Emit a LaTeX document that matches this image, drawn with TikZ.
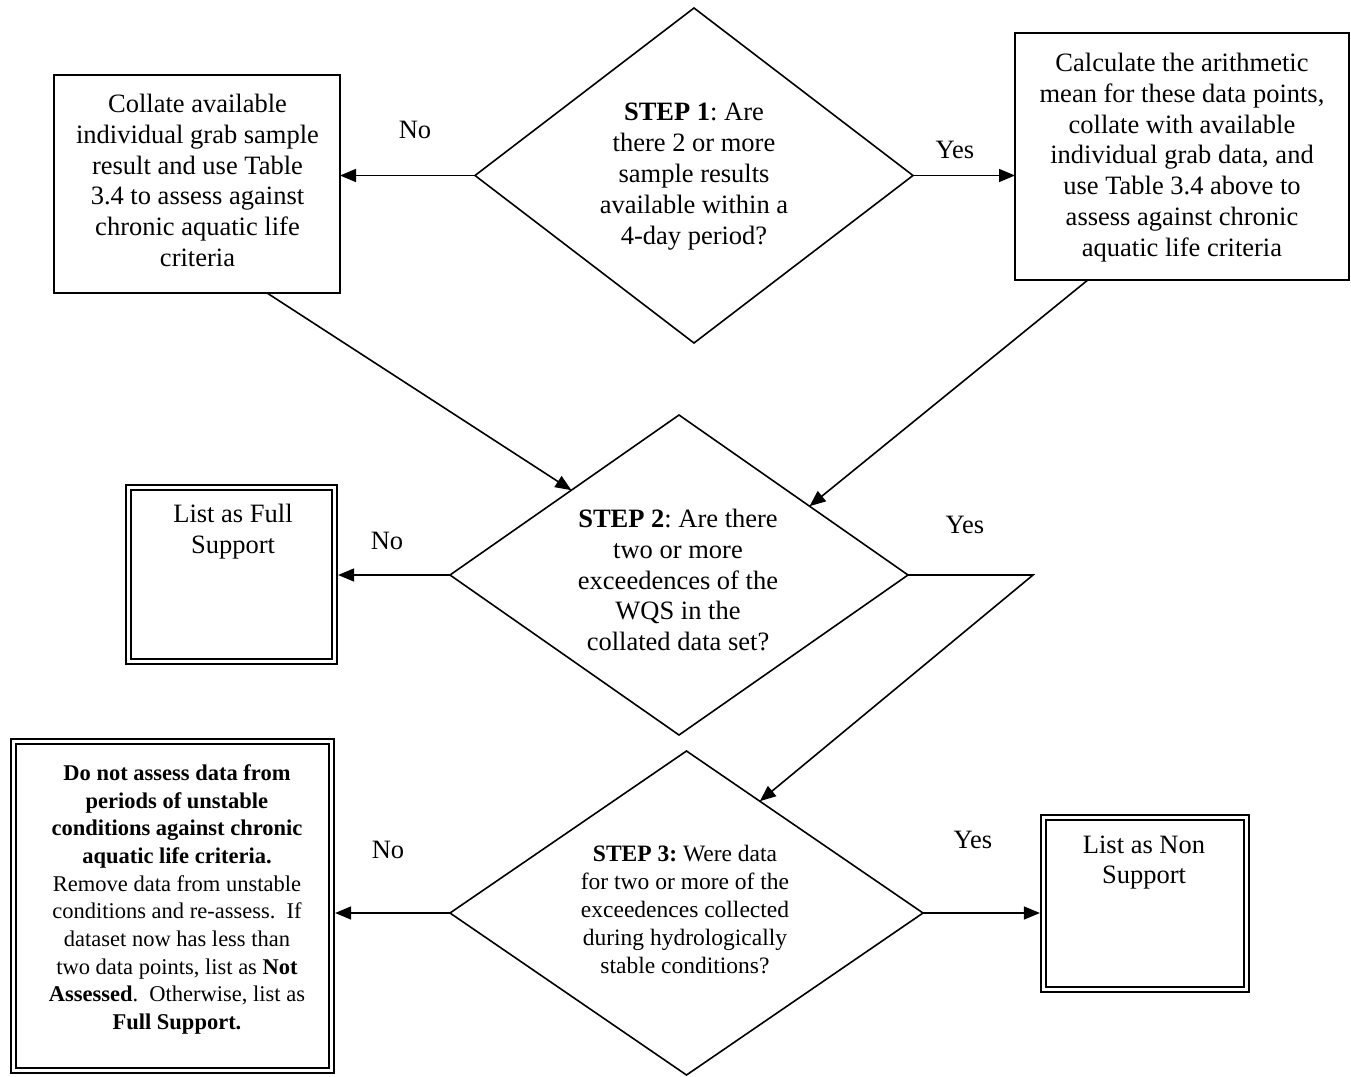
\documentclass[tikz,border=0pt]{standalone}
\usepackage{fontspec}
\setmainfont{Liberation Serif}
\usetikzlibrary{shapes.geometric,arrows.meta,calc}
\frenchspacing
\begin{document}
\begin{tikzpicture}[x=1pt,y=-1pt,
  base/.style={font=\fontsize{26.5pt}{30.8pt}\selectfont, align=center, inner sep=0pt},
  smalltext/.style={font=\fontsize{23.5pt}{28pt}\selectfont, align=center, inner sep=0pt},
  bigtext/.style={font=\fontsize{22.5pt}{27.7pt}\selectfont, align=center, inner sep=0pt},
  dia/.style={diamond, draw, line width=1.6pt, inner sep=0pt, outer sep=0pt},
  plainbox/.style={rectangle, draw, line width=2pt, inner sep=0pt, outer sep=0pt},
  dblbox/.style={rectangle, draw, double, double distance=2.4pt, line width=2.4pt, inner sep=0pt, outer sep=3.6pt},
  conn/.style={line width=1.6pt},
  arr/.style={line width=1.6pt, -{Triangle[length=16pt,width=13pt]}}
]
\fill[white] (0,0) rectangle (1351,1076);
\useasboundingbox (0,0) rectangle (1351,1076);

% shapes
\node[dia, minimum width=438pt, minimum height=335pt] (d1) at (694,175.5) {};
\node[dia, minimum width=458pt, minimum height=320pt] (d2) at (679,575) {};
\node[dia, minimum width=473pt, minimum height=324pt] (d3) at (686.5,913) {};
\node[plainbox, minimum width=286pt, minimum height=218pt] (b1) at (197,184) {};
\node[plainbox, minimum width=334pt, minimum height=247pt] (b2) at (1182,156.5) {};
\node[dblbox, minimum width=206pt, minimum height=174pt] (fs) at (231.5,574.5) {};
\node[dblbox, minimum width=203pt, minimum height=172pt] (ns) at (1145,903.5) {};
\node[dblbox, minimum width=318pt, minimum height=329pt] (bb) at (172.5,906) {};

% texts
\node[base] (t1) at (694,176.5) {\textbf{STEP 1}: Are\\there 2 or more\\sample results\\available within a\\4-day period?};
\node[base] (t2) at (678,580) {\textbf{STEP 2}: Are there\\two or more\\exceedences of the\\WQS in the\\collated data set?};
\node[smalltext] (t3) at (685,909) {\textbf{STEP 3:} Were data\\for two or more of the\\exceedences collected\\during hydrologically\\stable conditions?};
\node[base] (tb1) at (197.5,180.5) {Collate available\\individual grab sample\\result and use Table\\3.4 to assess against\\chronic aquatic life\\criteria};
\node[base] (tb2) at (1182,157.5) {Calculate the arithmetic\\mean for these data points,\\collate with available\\individual grab data, and\\use Table 3.4 above to\\assess against chronic\\aquatic life criteria};
\node[base] (tfs) at (233,532) {List as Full\\Support};
\node[base] (tns) at (1144,862.5) {List as Non\\Support};
\node[bigtext] (tbb) at (177,899.5) {\textbf{Do not assess data from}\\\textbf{periods of unstable}\\\textbf{conditions against chronic}\\\textbf{aquatic life criteria.}\\Remove data from unstable\\conditions and re-assess.~ If\\dataset now has less than\\two data points, list as \textbf{Not}\\\textbf{Assessed}.~ Otherwise, list as\\\textbf{Full Support.}};

% labels
\node[base] (l1) at (415,130) {No};
\node[base] (l2) at (955,150) {Yes};
\node[base] (l3) at (387,541) {No};
\node[base] (l4) at (965,525) {Yes};
\node[base] (l5) at (388,850) {No};
\node[base] (l6) at (973,840) {Yes};

% connectors
\draw[arr] (d1.west) -- (d1.west -| b1.east);
\draw[arr] (d1.east) -- (d1.east -| b2.west);
\draw[arr] ($(b1.south west)!0.745!(b1.south east)$) -- ($(d2.north)!0.47!(d2.west)$);
\draw[arr] ($(b2.south west)!0.218!(b2.south east)$) -- ($(d2.north)!0.57!(d2.east)$);
\draw[arr] (d2.west) -- (d2.west -| fs.east);
\coordinate (bend) at (1033,575);
\draw[arr] (d2.east) -- (bend) -- ($(d3.north)!0.31!(d3.east)$);
\draw[arr] (d3.west) -- (d3.west -| bb.east);
\draw[arr] (d3.east) -- (d3.east -| ns.west);
\end{tikzpicture}
\end{document}
